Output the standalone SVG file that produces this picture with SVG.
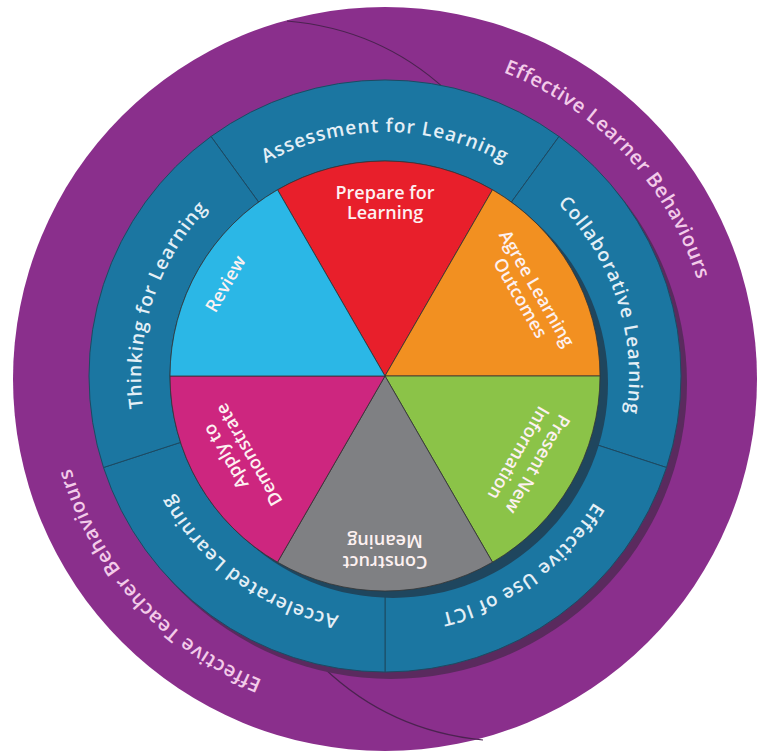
<svg xmlns="http://www.w3.org/2000/svg" width="763" height="752" viewBox="0 0 763 752">
<defs>
<style>
.ring-text{font-family:"Open Sans","DejaVu Sans",sans-serif;font-size:19px;font-weight:600;fill:#e4eff6;letter-spacing:1px}
.outer-text{font-family:"Open Sans","DejaVu Sans",sans-serif;font-size:20px;font-weight:600;fill:#f3cbe9;letter-spacing:0.6px}
.pie-text{font-family:"Open Sans","DejaVu Sans",sans-serif;font-size:18px;font-weight:600;fill:#fdf1f1;text-anchor:middle}
.seg{fill:#1b76a1;stroke:#1d4a62;stroke-width:1}
.sector{stroke:#333;stroke-width:0.8;stroke-linejoin:round}
.split{fill:none;stroke:#4b2350;stroke-width:1.2}
</style>
<path id="p-assess" d="M198.1,219.2 A244,244 0 0 1 571.9,219.2"/>
<path id="p-collab" d="M476.4,149.8 A244,244 0 0 1 591.9,505.3"/>
<path id="p-ict" d="M628.4,393.0 A244,244 0 0 1 326.0,612.8"/>
<path id="p-accel" d="M444.0,612.8 A244,244 0 0 1 141.6,393.0"/>
<path id="p-think" d="M178.1,505.3 A244,244 0 0 1 293.6,149.8"/>
<path id="p-learner" d="M311.4,58.4 A327,327 0 0 1 697.7,472.6"/>
<path id="p-teacher" d="M453.0,696.8 A327,327 0 0 1 74.0,276.0"/>
</defs>

<rect width="763" height="752" fill="#ffffff"/>

<g id="outer-ring">
  <circle cx="385" cy="379" r="372" fill="#8a2f8c"/>
  <path class="split" d="M287,21 Q380,29 446,90"/>
  <path class="split" d="M324,668 Q390,731 483,740"/>
</g>

<g id="learner-behaviours">
  <text class="outer-text" text-anchor="middle"><textPath href="#p-learner" startOffset="50%">Effective Learner Behaviours</textPath></text>
</g>
<g id="teacher-behaviours">
  <text class="outer-text" text-anchor="middle"><textPath href="#p-teacher" startOffset="50%">Effective Teacher Behaviours</textPath></text>
</g>

<g id="ring-shadow">
  <circle cx="391" cy="383" r="296" fill="#5a2a5e"/>
</g>

<g id="assessment">
  <path class="seg" d="M211.0,136.5 A296,296 0 0 1 559.0,136.5 L511.4,202.1 A215,215 0 0 0 258.6,202.1 Z"/>
  <text class="ring-text" text-anchor="middle"><textPath href="#p-assess" startOffset="50%">Assessment for Learning</textPath></text>
</g>
<g id="collaborative">
  <path class="seg" d="M559.0,136.5 A296,296 0 0 1 666.5,467.5 L589.5,442.4 A215,215 0 0 0 511.4,202.1 Z"/>
  <text class="ring-text" text-anchor="middle"><textPath href="#p-collab" startOffset="50%">Collaborative Learning</textPath></text>
</g>
<g id="ict">
  <path class="seg" d="M666.5,467.5 A296,296 0 0 1 385,672 L385,591 A215,215 0 0 0 589.5,442.4 Z"/>
  <text class="ring-text" text-anchor="middle"><textPath href="#p-ict" startOffset="50%">Effective Use of ICT</textPath></text>
</g>
<g id="accelerated">
  <path class="seg" d="M385,672 A296,296 0 0 1 103.5,467.5 L180.5,442.4 A215,215 0 0 0 385,591 Z"/>
  <text class="ring-text" text-anchor="middle"><textPath href="#p-accel" startOffset="50%">Accelerated Learning</textPath></text>
</g>
<g id="thinking">
  <path class="seg" d="M103.5,467.5 A296,296 0 0 1 211.0,136.5 L258.6,202.1 A215,215 0 0 0 180.5,442.4 Z"/>
  <text class="ring-text" text-anchor="middle"><textPath href="#p-think" startOffset="50%">Thinking for Learning</textPath></text>
</g>

<g id="pie-shadow">
  <circle cx="393" cy="383" r="215" fill="#1f465e"/>
</g>

<g id="prepare">
  <path class="sector" fill="#e81f2b" d="M385,376 L277.5,189.8 A215,215 0 0 1 492.5,189.8 Z"/>
  <g transform="translate(385,376)">
    <text class="pie-text" y="-177">Prepare for</text>
    <text class="pie-text" y="-157">Learning</text>
  </g>
</g>
<g id="agree">
  <path class="sector" fill="#f29021" d="M385,376 L492.5,189.8 A215,215 0 0 1 600,376 Z"/>
  <g transform="translate(385,376) rotate(60)">
    <text class="pie-text" y="-169">Agree Learning</text>
    <text class="pie-text" y="-150">Outcomes</text>
  </g>
</g>
<g id="present">
  <path class="sector" fill="#8bc348" d="M385,376 L600,376 A215,215 0 0 1 492.5,562.2 Z"/>
  <g transform="translate(385,376) rotate(120)">
    <text class="pie-text" y="-170">Present New</text>
    <text class="pie-text" y="-148">Information</text>
  </g>
</g>
<g id="construct">
  <path class="sector" fill="#7f8083" d="M385,376 L492.5,562.2 A215,215 0 0 1 277.5,562.2 Z"/>
  <g transform="translate(385,376) rotate(180)">
    <text class="pie-text" y="-180">Construct</text>
    <text class="pie-text" y="-159">Meaning</text>
  </g>
</g>
<g id="apply">
  <path class="sector" fill="#cd267f" d="M385,376 L277.5,562.2 A215,215 0 0 1 170,376 Z"/>
  <g transform="translate(385,376) rotate(240)">
    <text class="pie-text" x="10" y="-172">Apply to</text>
    <text class="pie-text" y="-151">Demonstrate</text>
  </g>
</g>
<g id="review">
  <path class="sector" fill="#2bb7e6" d="M385,376 L170,376 A215,215 0 0 1 277.5,189.8 Z"/>
  <g transform="translate(385,376) rotate(-60)">
    <text class="pie-text" y="-178">Review</text>
  </g>
</g>
</svg>
